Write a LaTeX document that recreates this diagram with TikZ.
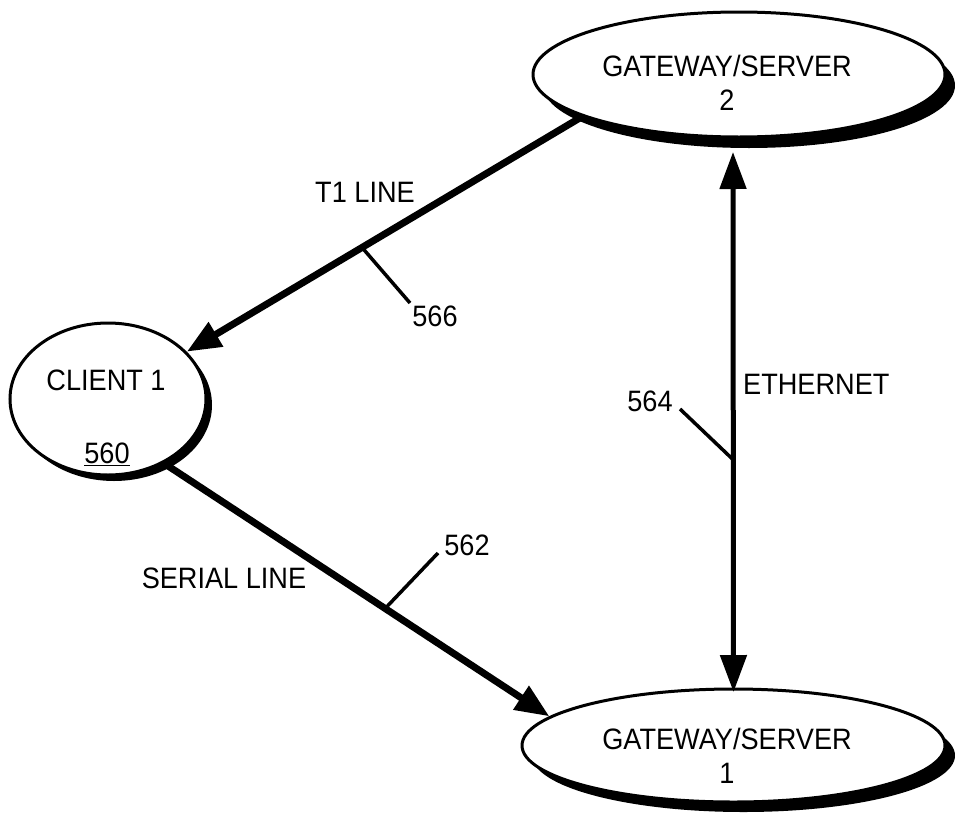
\documentclass[tikz,border=0pt]{standalone}
\usepackage{fontspec}
\setmainfont{Liberation Sans}[FakeStretch=0.92]
\usetikzlibrary{arrows.meta,shapes.geometric,shadows}
\begin{document}
\begin{tikzpicture}[x=1pt,y=-1pt,
  box/.style={ellipse, draw, line width=3pt, fill=white, inner sep=0pt},
  shd/.style 2 args={drop shadow={shadow xshift=#1, shadow yshift=#2, fill=black, opacity=1}},
  lbl/.style={font=\fontsize{29.5}{34}\selectfont, inner sep=0pt, align=center},
  conn/.style={line width=7pt, -{Triangle[length=34pt,width=27pt]}},
  eth/.style={line width=5pt, {Triangle[length=37pt,width=26pt]}-{Triangle[length=37pt,width=26pt]}},
  lead/.style={line width=3.5pt}]
\useasboundingbox (0,0) rectangle (955,822);
% ellipses
\node[box, minimum width=412pt, minimum height=125pt, shd={10pt}{-11pt}] (g2) at (739,74.5) {};
\node[box, minimum width=423pt, minimum height=113pt, shd={10pt}{-10pt}] (g1) at (733.5,745.5) {};
\node[box, minimum width=196pt, minimum height=152pt, shd={6pt}{-6pt}] (c1) at (108,399) {};
% texts inside
\node[lbl] (g2t) at (727,83) {GATEWAY/SERVER\\2};
\node[lbl] (g1t) at (727,756) {GATEWAY/SERVER\\1};
\node[lbl] (c1t) at (106,380) {CLIENT 1};
\node[lbl] (c1n) at (107,454) {\underline{560}};
% connectors
\draw[conn] (g2.195) -- coordinate[pos=0.557] (p566) (c1.31);
\draw[conn] (c1.311) -- coordinate[pos=0.574] (p562) (g1.171.5);
\draw[eth] ([xshift=-6pt,yshift=-13.5pt]g2.south) -- coordinate[pos=0.57] (p564) ([yshift=-4.5pt]g1.north);
% connector labels
\node[lbl] (t1) at (365,192) {T1 LINE};
\node[lbl] (ser) at (224,578) {SERIAL LINE};
\node[lbl, anchor=west] (ethl) at (743,384) {ETHERNET};
% reference numerals
\node[lbl] (n566) at (435,316) {566};
\node[lbl] (n564) at (650,401) {564};
\node[lbl] (n562) at (467,545) {562};
\coordinate (e566) at (410,303);
\coordinate (e564) at (680,409);
\coordinate (e562) at (438,553);
\draw[lead] (p566) -- (e566);
\draw[lead] (p564) -- (e564);
\draw[lead] (p562) -- (e562);
\end{tikzpicture}
\end{document}
